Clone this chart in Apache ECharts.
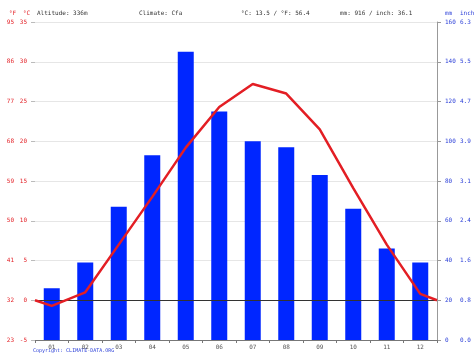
<!DOCTYPE html>
<html><head><meta charset="utf-8">
<script src="https://cdn.jsdelivr.net/npm/echarts@6/dist/echarts.min.js"></script>
<style>html,body{margin:0;padding:0;background:#fff}#c{width:474px;height:355px}</style>
</head><body><div id="c"></div>
<script>
const months = ['01','02','03','04','05','06','07','08','09','10','11','12'];
const precipMm = [26, 39, 67, 93, 145, 115, 100, 97, 83, 66, 46, 39];
const tempC = [-0.7, 1.0, 7.0, 13.0, 19.2, 24.3, 27.2, 26.0, 21.5, 14.1, 7.0, 0.8];
const tempEdges = [0.0, 0.0]; // line value at left and right plot edges
const headerTexts = ['Altitude: 336m', 'Climate: Cfa', '°C: 13.5 / °F: 56.4', 'mm: 916 / inch: 36.1'];

const FONT = 'DejaVu Sans Mono';
const RED = '#e31e24', BLUE = '#2b3fd8';
const linePts = [[0.5, tempEdges[0]]].concat(tempC.map((v, i) => [i + 1, v])).concat([[12.5, tempEdges[1]]]);

const chart = echarts.init(document.getElementById('c'));
chart.setOption({
  animation: false,
  grid: {left: 35, right: 37, top: 22, bottom: 15},
  xAxis: [
    {type: 'category', data: months, boundaryGap: true,
     axisLine: {onZero: false, lineStyle: {color: '#777', width: 1}},
     axisTick: {show: true, length: 3, lineStyle: {color: '#777'}},
     axisLabel: {fontFamily: FONT, fontSize: 6, color: '#555', margin: 4}},
    {type: 'value', min: 0.5, max: 12.5, show: false}
  ],
  yAxis: [
    {type: 'value', min: -5, max: 35, interval: 5, position: 'left',
     axisLine: {show: false}, axisTick: {show: true, length: 4, inside: false, lineStyle: {color: '#bbb'}},
     axisLabel: {fontFamily: FONT, fontSize: 6, color: RED, margin: 8},
     splitLine: {lineStyle: {color: '#e6e6e6', width: 1}}},
    {type: 'value', min: -5, max: 35, interval: 5, position: 'left', offset: 13,
     axisLine: {show: false}, axisTick: {show: false}, splitLine: {show: false},
     axisLabel: {fontFamily: FONT, fontSize: 6, color: RED, margin: 8,
                 formatter: v => String(Math.round(v * 9 / 5 + 32))}},
    {type: 'value', min: 0, max: 160, interval: 20, position: 'right',
     axisLine: {show: true, lineStyle: {color: '#999', width: 1}},
     axisTick: {show: true, length: 4, lineStyle: {color: '#999'}},
     axisLabel: {fontFamily: FONT, fontSize: 6, color: BLUE, margin: 8},
     splitLine: {show: false}},
    {type: 'value', min: 0, max: 160, interval: 20, position: 'right', offset: 15,
     axisLine: {show: false}, axisTick: {show: false}, splitLine: {show: false},
     axisLabel: {fontFamily: FONT, fontSize: 6, color: BLUE, margin: 8,
                 formatter: v => (v / 25.4).toFixed(1)}}
  ],
  series: [
    {type: 'bar', data: precipMm, xAxisIndex: 0, yAxisIndex: 2, barWidth: 16,
     itemStyle: {color: '#0026ff'}, z: 2},
    {type: 'line', data: linePts, xAxisIndex: 1, yAxisIndex: 0, symbol: 'none',
     lineStyle: {color: RED, width: 2.5}, z: 4,
     markLine: {silent: true, symbol: 'none', label: {show: false},
                lineStyle: {color: '#333', width: 1, type: 'solid'},
                data: [{yAxis: 0}], z: 3}}
  ],
  graphic: [
    {type: 'text', left: 9, top: 10, style: {text: '°F', fontFamily: FONT, fontSize: 6, fill: RED}},
    {type: 'text', left: 23, top: 10, style: {text: '°C', fontFamily: FONT, fontSize: 6, fill: RED}},
    {type: 'text', left: 37, top: 10, style: {text: headerTexts[0], fontFamily: FONT, fontSize: 6, fill: '#333'}},
    {type: 'text', left: 139, top: 10, style: {text: headerTexts[1], fontFamily: FONT, fontSize: 6, fill: '#333'}},
    {type: 'text', left: 241, top: 10, style: {text: headerTexts[2], fontFamily: FONT, fontSize: 6, fill: '#333'}},
    {type: 'text', left: 340, top: 10, style: {text: headerTexts[3], fontFamily: FONT, fontSize: 6, fill: '#333'}},
    {type: 'text', left: 445, top: 10, style: {text: 'mm', fontFamily: FONT, fontSize: 6, fill: BLUE}},
    {type: 'text', left: 460, top: 10, style: {text: 'inch', fontFamily: FONT, fontSize: 6, fill: BLUE}},
    {type: 'text', left: 33, top: 348, style: {text: 'Copyright: CLIMATE-DATA.ORG', fontFamily: FONT, fontSize: 5, fill: BLUE}}
  ]
});
</script></body></html>
